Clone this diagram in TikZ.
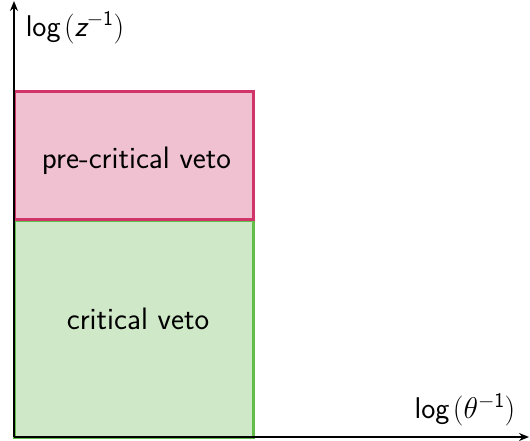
\documentclass[tikz,border=0pt]{standalone}
\usepackage{fix-cm}
\usepackage{fontspec}
\usetikzlibrary{arrows.meta}
\definecolor{pinkfill}{RGB}{239,193,209}
\definecolor{pinkline}{RGB}{208,52,104}
\definecolor{greenfill}{RGB}{207,232,199}
\definecolor{greenline}{RGB}{98,190,72}
\newcommand{\sflog}[1]{$\textsf{log}\mkern2mu\bigl(#1^{\mathsf{-1}}\bigr)$}
\begin{document}
\begin{tikzpicture}[x=1pt,y=-1pt,
  region/.style={line width=3pt},
  axis/.style={line width=2.4pt,-{Stealth[length=10pt,width=8pt]}},
  lbl/.style={font=\fontsize{31}{36}\selectfont\sffamily},
  axlbl/.style={font=\fontsize{30}{35}\selectfont\sffamily}]
\useasboundingbox (0,0) rectangle (530,441);
\draw[region,fill=greenfill,draw=greenline] (14,220) rectangle (253,437);
\draw[region,fill=pinkfill,draw=pinkline] (14,92) rectangle (253,219);
\node[lbl] (pre) at (136.5,161) {pre-critical veto};
\node[lbl] (crit) at (138,319) {critical veto};
\coordinate (o) at (14,437);
\coordinate (ytip) at (14,1);
\coordinate (xtip) at (529,437);
\draw[axis] (o) -- (ytip);
\draw[axis] (o) -- (xtip);
\node[axlbl] (ylab) at (75,28) {\sflog{\textsf{\itshape z}}};
\node[axlbl] (xlab) at (465,410) {\sflog{\theta}};
\end{tikzpicture}
\end{document}
